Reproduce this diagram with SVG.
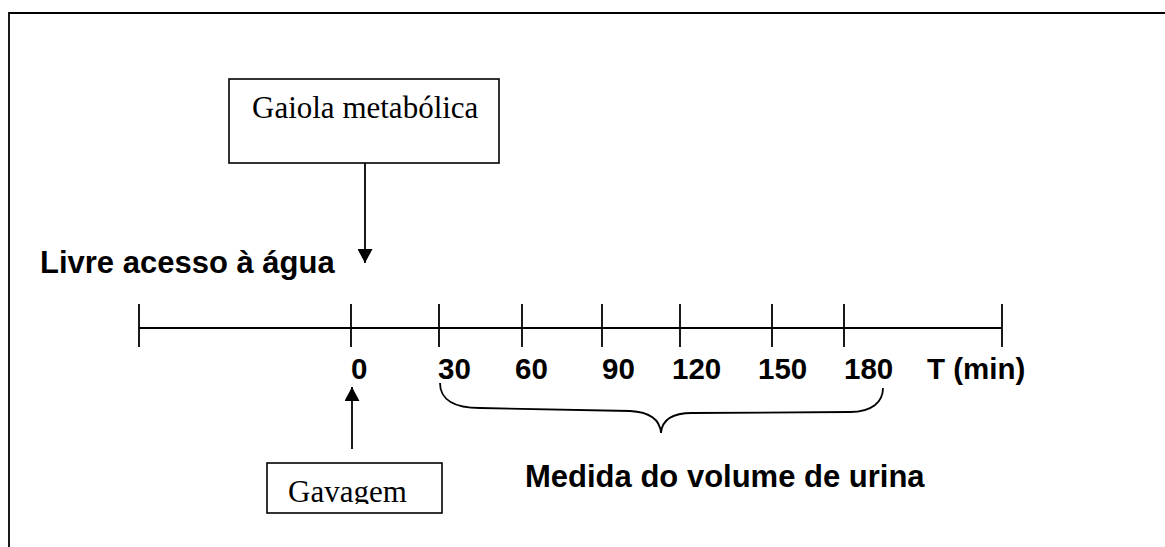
<svg xmlns="http://www.w3.org/2000/svg" width="1165" height="547" viewBox="0 0 1165 547">
  <style>
    .ln { stroke: #000; stroke-width: 1.8; fill: none; }
    .box { stroke: #000; stroke-width: 1.6; fill: #fff; }
    .serif { font-family: "Liberation Serif", "Times New Roman", serif; font-size: 31px; fill: #000; }
    .lbl { font-family: "Liberation Sans", Arial, sans-serif; font-weight: bold; font-size: 31px; fill: #000; }
    .num { font-family: "Liberation Sans", Arial, sans-serif; font-weight: bold; font-size: 29.5px; fill: #000; }
  </style>
  <defs>
    <marker id="arr" viewBox="0 0 10 10" refX="10" refY="5" markerWidth="14" markerHeight="15" markerUnits="userSpaceOnUse" orient="auto" preserveAspectRatio="none">
      <path d="M0,0 L10,5 L0,10 Z" fill="#000"/>
    </marker>
    <clipPath id="gavClip"><rect x="267" y="463" width="175" height="41"/></clipPath>
  </defs>
  <rect width="1165" height="547" fill="#fff"/>
  <path class="ln" d="M9,547 V13 H1165" stroke-width="2"/>

  <g id="gaiola">
    <rect class="box" x="229" y="79" width="270" height="84"/>
    <text class="serif" x="252" y="118">Gaiola metabólica</text>
  </g>

  <g id="livre">
    <text class="lbl" x="40" y="273">Livre acesso à água</text>
  </g>

  <g id="timeline">
    <line class="ln" x1="139" y1="328" x2="1002" y2="328"/>
    <line class="ln" x1="139" y1="304" x2="139" y2="347"/>
    <line class="ln" x1="351" y1="304" x2="351" y2="347"/>
    <line class="ln" x1="439" y1="304" x2="439" y2="347"/>
    <line class="ln" x1="522" y1="304" x2="522" y2="347"/>
    <line class="ln" x1="602" y1="304" x2="602" y2="347"/>
    <line class="ln" x1="680" y1="304" x2="680" y2="347"/>
    <line class="ln" x1="772" y1="304" x2="772" y2="347"/>
    <line class="ln" x1="844" y1="304" x2="844" y2="347"/>
    <line class="ln" x1="1002" y1="304" x2="1002" y2="347"/>
    <text class="num" x="351" y="379">0</text>
    <text class="num" x="438" y="379">30</text>
    <text class="num" x="515" y="379">60</text>
    <text class="num" x="602" y="379">90</text>
    <text class="num" x="672" y="379">120</text>
    <text class="num" x="758" y="379">150</text>
    <text class="num" x="844" y="379">180</text>
    <text class="num" x="927" y="379">T (min)</text>
  </g>

  <g id="brace">
    <path class="ln" d="M440,383 C440,400 455,408 480,408 L630,411 C650,412 660,420 661,433 C662,420 672,413 692,413 L850,412 C872,412 883,402 883,388"/>
    <text class="lbl" x="525" y="487">Medida do volume de urina</text>
  </g>

  <g id="gavagem">
    <rect class="box" x="267" y="463" width="175" height="50"/>
    <text class="serif" x="288" y="502" clip-path="url(#gavClip)">Gavagem</text>
  </g>

  <g id="connectors">
    <line class="ln" x1="365" y1="163" x2="365" y2="263" marker-end="url(#arr)"/>
    <line class="ln" x1="352" y1="449" x2="352" y2="387" marker-end="url(#arr)"/>
  </g>
</svg>
